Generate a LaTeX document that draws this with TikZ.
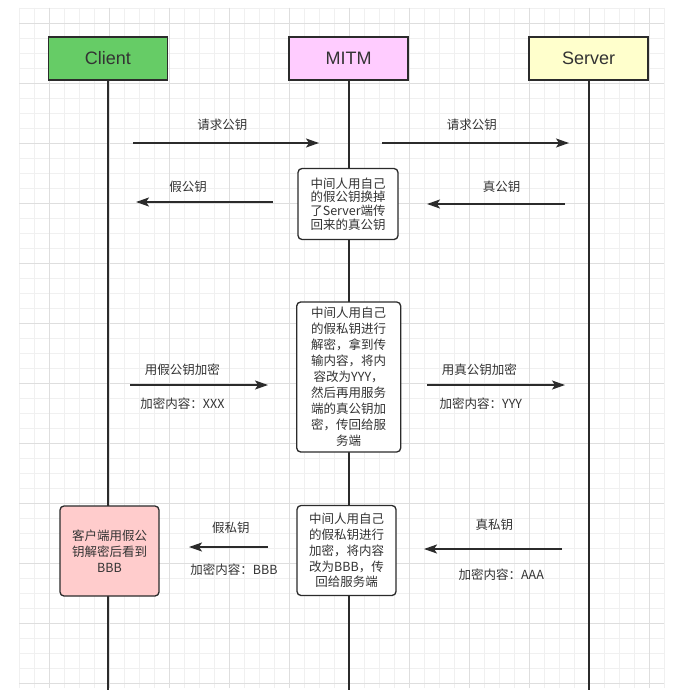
\documentclass[tikz,border=0pt]{standalone}
\usepackage{fontspec}
\setmainfont{Noto Sans CJK SC}
\newfontfamily\headfont{Liberation Sans}
\usetikzlibrary{arrows.meta}

\definecolor{gridminor}{HTML}{F0F0F0}
\definecolor{gridmajor}{HTML}{DEDEDE}
\definecolor{ink}{HTML}{2B2B2B}
\definecolor{txt}{HTML}{333333}
\definecolor{clientgreen}{HTML}{66CC66}
\definecolor{mitmpink}{HTML}{FFCCFF}
\definecolor{serveryellow}{HTML}{FFFFCC}
\definecolor{notered}{HTML}{FFCCCC}

\tikzset{
  actor/.style={draw=ink, line width=1.6pt, minimum width=119pt, minimum height=43pt,
    font=\headfont\fontsize{18}{20}\selectfont, text=txt},
  note/.style={draw=ink, line width=1.3pt, rounded corners=4pt, align=center, inner sep=0pt,
    fill=white, text=txt},
  life/.style={draw=ink, line width=2pt},
  msg/.style={draw=ink, line width=1.8pt, -{Stealth[length=13pt, width=9pt, inset=3pt]}},
  lbl/.style={font=\fontsize{12.5}{15}\selectfont, text=txt},
}

\begin{document}
\begin{tikzpicture}[x=1pt, y=-1pt]
    \useasboundingbox[fill=white] (0,0) rectangle (683,690);

    % grid
    \foreach \gx in {19,34,...,664} \draw[gridminor, line width=0.6pt] (\gx,8) -- (\gx,688);
    \foreach \gy in {8,23,...,683} \draw[gridminor, line width=0.6pt] (19,\gy) -- (664,\gy);
    \foreach \gx in {49,109,...,649} \draw[gridmajor, line width=0.6pt] (\gx,8) -- (\gx,688);
    \foreach \gy in {23,83,...,683} \draw[gridmajor, line width=0.6pt] (19,\gy) -- (664,\gy);

    % actors and lifelines
    \node[actor, fill=clientgreen] (client) at (108,58.5) {Client};
    \node[actor, fill=mitmpink] (mitm) at (348.5,58.5) {MITM};
    \node[actor, fill=serveryellow] (server) at (588.5,58.5) {Server};

    \coordinate (clientEnd) at (108,690);
    \coordinate (mitmEnd) at (348.5,690);
    \coordinate (serverEnd) at (588.5,690);

    \draw[life] (client) -- (clientEnd);
    \draw[life] (mitm) -- (mitmEnd);
    \draw[life] (server) -- (serverEnd);

    % notes
    \node[note, minimum width=100pt, minimum height=71pt, font=\fontsize{12.5}{13.7}\selectfont]
      (swapKey) at (348,204) {中间人用自己\\的假公钥换掉\\了Server端传\\回来的真公钥};
    \node[note, minimum width=104pt, minimum height=150pt, font=\fontsize{12.5}{16}\selectfont]
      (reEncrypt) at (348.7,377) {中间人用自己\\的假私钥进行\\解密，拿到传\\输内容，将内\\容改为YYY，\\然后再用服务\\端的真公钥加\\密，传回给服\\务端};
    \node[note, minimum width=99pt, minimum height=90pt, font=\fontsize{12.5}{15.8}\selectfont]
      (reReply) at (346.5,550.5) {中间人用自己\\的假私钥进行\\加密，将内容\\改为BBB，传\\回给服务端};
    \node[note, fill=notered, minimum width=99pt, minimum height=90pt, font=\fontsize{12.5}{16}\selectfont]
      (clientSees) at (109.5,551) {客户端用假公\\钥解密后看到\\BBB};

    % message ends
    \coordinate (reqA) at (133,143);   \coordinate (reqB) at (319,143);
    \coordinate (reqC) at (382,143);   \coordinate (reqD) at (569,143);
    \coordinate (fakeA) at (273,202);  \coordinate (fakeB) at (136,202);
    \coordinate (realA) at (565,204);  \coordinate (realB) at (427,204);
    \coordinate (encA) at (130,385);   \coordinate (encB) at (268,385);
    \coordinate (encC) at (427,385);   \coordinate (encD) at (565,385);
    \coordinate (privA) at (268,547);  \coordinate (privB) at (189,547);
    \coordinate (privC) at (562,549);  \coordinate (privD) at (424,549);

    % messages
    \draw[msg] (reqA) -- node[lbl, pos=.48, yshift=18pt] {请求公钥} (reqB);
    \draw[msg] (reqC) -- node[lbl, pos=.48, yshift=18pt] {请求公钥} (reqD);
    \draw[msg] (fakeA) -- node[lbl, pos=.62, yshift=15pt] {假公钥} (fakeB);
    \draw[msg] (realA) -- node[lbl, pos=.46, yshift=17pt] {真公钥} (realB);
    \draw[msg] (encA) -- node[lbl, pos=.38, yshift=15pt] {用假公钥加密}
      node[lbl, pos=.38, yshift=-19pt] {加密内容：XXX} (encB);
    \draw[msg] (encC) -- node[lbl, pos=.38, yshift=15pt] {用真公钥加密}
      node[lbl, pos=.39, yshift=-19pt] {加密内容：YYY} (encD);
    \draw[msg] (privA) -- node[lbl, pos=.47, yshift=19pt] {假私钥}
      node[lbl, pos=.43, yshift=-23pt] {加密内容：BBB} (privB);
    \draw[msg] (privC) -- node[lbl, pos=.49, yshift=24pt] {真私钥}
      node[lbl, pos=.44, yshift=-26pt] {加密内容：AAA} (privD);
\end{tikzpicture}
\end{document}
